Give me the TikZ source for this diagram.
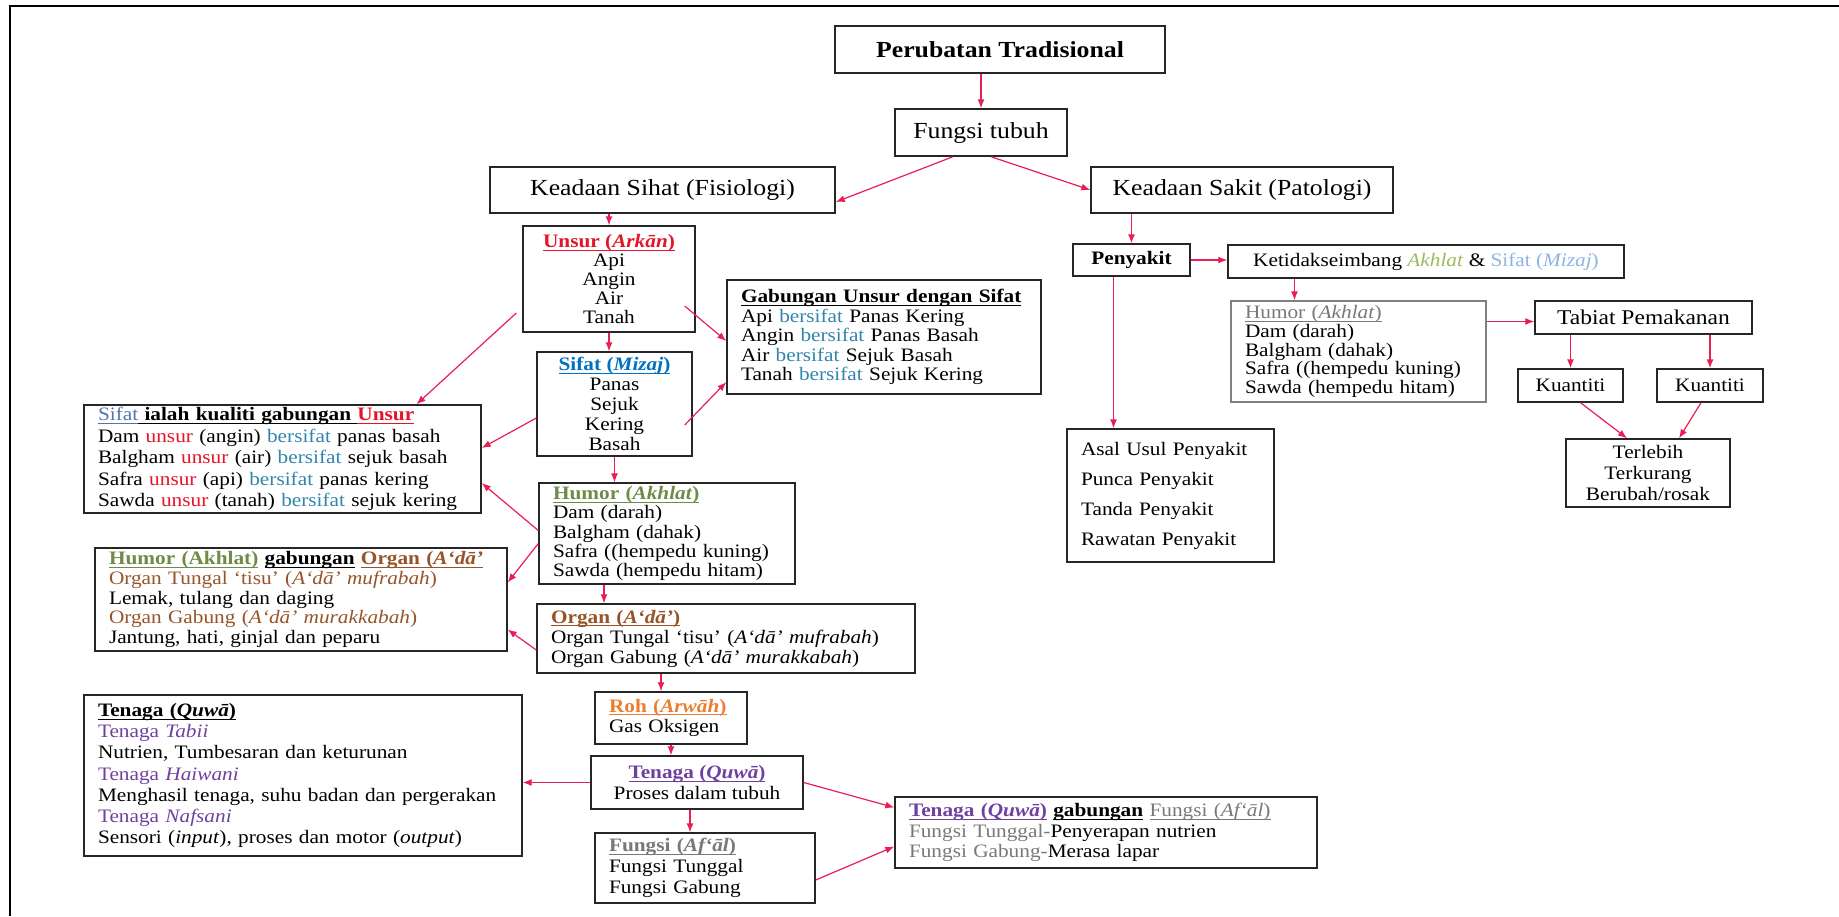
\documentclass[tikz,border=0pt]{standalone}
\usepackage{fontspec}
\setmainfont{Liberation Serif}[FakeStretch=1.12]
\usetikzlibrary{arrows.meta}

\definecolor{arrred}{RGB}{232,30,84}
\definecolor{unsred}{RGB}{230,20,40}
\definecolor{sifblue}{RGB}{0,112,192}
\definecolor{bsfteal}{RGB}{49,133,170}
\definecolor{sifgray}{RGB}{84,116,170}
\definecolor{humgreen}{RGB}{110,140,70}
\definecolor{orgbrown}{RGB}{150,84,40}
\definecolor{rohorange}{RGB}{237,125,49}
\definecolor{tenpurple}{RGB}{112,64,160}
\definecolor{fgray}{RGB}{120,120,120}
\definecolor{akhgreen}{RGB}{155,187,89}
\definecolor{siflblue}{RGB}{141,180,226}

% underline at a fixed depth
\newcommand{\undl}[1]{\setbox0\hbox{#1}\rlap{\rule[-1.6pt]{\wd0}{0.45pt}}\box0\relax}

\tikzset{
  box/.style={draw=black!85, line width=0.7pt, inner xsep=7pt, inner ysep=1pt,
    align=left, font=\fontsize{9.5}{10.4}\selectfont},
  cbox/.style={box, align=center},
  arr/.style={draw=arrred, line width=0.6pt, -{Latex[length=4.5pt,width=3.5pt]}}
}

\begin{document}
\begin{tikzpicture}[x=0.5pt,y=-0.5pt]
    \useasboundingbox (0,0) rectangle (1839,916);
    \draw[line width=1.2pt] (10,916) -- (10,6) -- (1839,6);

    % top of the chart
    \node[cbox, minimum width=165pt, minimum height=23.5pt,
      font=\fontsize{11.5}{13}\selectfont\bfseries] (per) at (1000,49.5) {Perubatan Tradisional};
    \node[cbox, minimum width=86pt, minimum height=23.5pt,
      font=\fontsize{11.5}{13}\selectfont] (fungsi) at (981,132.5) {Fungsi tubuh};
    \node[cbox, minimum width=172.5pt, minimum height=23pt,
      font=\fontsize{11.5}{13}\selectfont] (sihat) at (662.5,190) {Keadaan Sihat (Fisiologi)};
    \node[cbox, minimum width=151pt, minimum height=23pt,
      font=\fontsize{11.5}{13}\selectfont] (sakit) at (1242,190) {Keadaan Sakit (Patologi)};

    % keadaan sihat
    \node[cbox, minimum width=86pt, minimum height=53pt,
      font=\fontsize{9.5}{9.4}\selectfont] (unsur) at (609,279)
      {\textcolor{unsred}{\undl{\textbf{Unsur (\textit{Arkān})}}}\\Api\\Angin\\Air\\Tanah};
    \node[cbox, minimum width=77.5pt, minimum height=52pt,
      font=\fontsize{9.5}{10}\selectfont] (sifat) at (614.5,404)
      {\textcolor{sifblue}{\undl{\textbf{Sifat (\textit{Mizaj})}}}\\Panas\\Sejuk\\Kering\\Basah};
    \node[box, text width=143pt, minimum height=57pt,
      font=\fontsize{9.5}{9.8}\selectfont] (gab) at (884,337)
      {\undl{\textbf{Gabungan Unsur dengan Sifat}}\\
       Api \textcolor{bsfteal}{bersifat} Panas Kering\\
       Angin \textcolor{bsfteal}{bersifat} Panas Basah\\
       Air \textcolor{bsfteal}{bersifat} Sejuk Basah\\
       Tanah \textcolor{bsfteal}{bersifat} Sejuk Kering};
    \node[box, text width=184.5pt, minimum height=54pt,
      font=\fontsize{9.5}{10.7}\selectfont] (ialah) at (282.5,459)
      {\textcolor{sifgray}{\undl{Sifat}}\undl{\textbf{ ialah kualiti gabungan }}\textcolor{unsred}{\undl{\textbf{Unsur}}}\\
       Dam \textcolor{unsred}{unsur} (angin) \textcolor{bsfteal}{bersifat} panas basah\\
       Balgham \textcolor{unsred}{unsur} (air) \textcolor{bsfteal}{bersifat} sejuk basah\\
       Safra \textcolor{unsred}{unsur} (api) \textcolor{bsfteal}{bersifat} panas kering\\
       Sawda \textcolor{unsred}{unsur} (tanah) \textcolor{bsfteal}{bersifat} sejuk kering};
    \node[box, text width=114pt, minimum height=50.5pt,
      font=\fontsize{9.5}{9.6}\selectfont] (humor) at (667,533.5)
      {\textcolor{humgreen}{\undl{\textbf{Humor (\textit{Akhlat})}}}\\
       Dam (darah)\\Balgham (dahak)\\Safra ((hempedu kuning)\\Sawda (hempedu hitam)};
    \node[box, text width=192pt, minimum height=51.5pt,
      font=\fontsize{9.5}{9.8}\selectfont] (hgab) at (301,599.5)
      {\textcolor{humgreen}{\undl{\textbf{Humor (Akhlat)}}} \undl{\textbf{gabungan}} \textcolor{orgbrown}{\undl{\textbf{Organ (\textit{A‘dā’}}}}\\
       \textcolor{orgbrown}{Organ Tungal ‘tisu’ (\textit{A‘dā’ mufrabah})}\\
       Lemak, tulang dan daging\\
       \textcolor{orgbrown}{Organ Gabung (\textit{A‘dā’ murakkabah})}\\
       Jantung, hati, ginjal dan peparu};
    \node[box, text width=175pt, minimum height=34.5pt,
      font=\fontsize{9.5}{10}\selectfont] (organ) at (726,638.5)
      {\textcolor{orgbrown}{\undl{\textbf{Organ (\textit{A‘dā’})}}}\\
       Organ Tungal ‘tisu’ (\textit{A‘dā’ mufrabah})\\
       Organ Gabung (\textit{A‘dā’ murakkabah})};
    \node[box, text width=62pt, minimum height=26pt] (roh) at (671,718)
      {\textcolor{rohorange}{\undl{\textbf{Roh (\textit{Arwāh})}}}\\Gas Oksigen};
    \node[box, text width=205pt, minimum height=80.5pt,
      font=\fontsize{9.5}{10.6}\selectfont] (tenL) at (303,775.5)
      {\undl{\textbf{Tenaga (\textit{Quwā})}}\\
       \textcolor{tenpurple}{Tenaga \textit{Tabii}}\\
       Nutrien, Tumbesaran dan keturunan\\
       \textcolor{tenpurple}{Tenaga \textit{Haiwani}}\\
       Menghasil tenaga, suhu badan dan pergerakan\\
       \textcolor{tenpurple}{Tenaga \textit{Nafsani}}\\
       Sensori (\textit{input}), proses dan motor (\textit{output})};
    \node[cbox, minimum width=106pt, minimum height=26.5pt] (tenM) at (697,782.5)
      {\textcolor{tenpurple}{\undl{\textbf{Tenaga (\textit{Quwā})}}}\\Proses dalam tubuh};
    \node[box, text width=96pt, minimum height=35pt] (fungsiaf) at (705,868)
      {\textcolor{fgray}{\undl{\textbf{Fungsi (\textit{Af‘āl})}}}\\Fungsi Tunggal\\Fungsi Gabung};
    \node[box, text width=197pt, minimum height=35.5pt] (tgab) at (1106,832.5)
      {\textcolor{tenpurple}{\undl{\textbf{Tenaga (\textit{Quwā})}}} \undl{\textbf{gabungan}} \textcolor{fgray}{\undl{Fungsi (\textit{Af‘āl})}}\\
       \textcolor{fgray}{Fungsi Tunggal-}Penyerapan nutrien\\
       \textcolor{fgray}{Fungsi Gabung-}Merasa lapar};

    % keadaan sakit
    \node[cbox, minimum width=58.5pt, minimum height=16pt, font=\fontsize{9.5}{10}\selectfont\bfseries]
      (penyakit) at (1131.5,260) {Penyakit};
    \node[cbox, minimum width=198pt, minimum height=16.5pt] (ketid) at (1426,261.5)
      {Ketidakseimbang \textcolor{akhgreen}{\textit{Akhlat}} \& \textcolor{siflblue}{Sifat (\textit{Mizaj})}};
    \node[box, draw=black!50, text width=113.5pt, minimum height=50.5pt,
      font=\fontsize{9.5}{9.4}\selectfont] (humorR) at (1358.5,351.5)
      {\textcolor{fgray}{\undl{Humor (\textit{Akhlat})}}\\
       Dam (darah)\\Balgham (dahak)\\Safra ((hempedu kuning)\\Sawda (hempedu hitam)};
    \node[cbox, minimum width=108.5pt, minimum height=16.5pt,
      font=\fontsize{10.5}{11}\selectfont] (tabiat) at (1643.5,317.5) {Tabiat Pemakanan};
    \node[cbox, minimum width=52.5pt, minimum height=16.5pt] (kuan1) at (1570.5,385.5) {Kuantiti};
    \node[cbox, minimum width=53pt, minimum height=16.5pt] (kuan2) at (1710,385.5) {Kuantiti};
    \node[cbox, minimum width=82pt, minimum height=34pt] (terlebih) at (1648,473)
      {Terlebih\\Terkurang\\Berubah/rosak};
    \node[box, text width=89.5pt, minimum height=66.5pt,
      font=\fontsize{9.5}{15}\selectfont] (asal) at (1170.5,495.5)
      {Asal Usul Penyakit\\Punca Penyakit\\Tanda Penyakit\\Rawatan Penyakit};

    % arrows
    \draw[arr] (per.south -| fungsi.north) -- (fungsi.north);
    \draw[arr] ([xshift=-14pt]fungsi.south) -- ([yshift=-6pt]sihat.east);
    \draw[arr] ([xshift=5pt]fungsi.south) -- (sakit.west);
    \draw[arr] (sihat.south -| unsur.north) -- (unsur.north);
    \draw[arr] (unsur.south) -- (unsur.south |- sifat.north);
    \draw[arr] ([shift={(-3pt,-17pt)}]unsur.west) -- ([xshift=67pt]ialah.north);
    \draw[arr] ([shift={(-5.5pt,-13.5pt)}]unsur.east) -- ([yshift=-2pt]gab.west);
    \draw[arr] ([shift={(-4pt,-10.5pt)}]sifat.east) -- ([yshift=-22.5pt]gab.west);
    \draw[arr] ([yshift=-7pt]sifat.west) -- ([yshift=5.5pt]ialah.east);
    \draw[arr] (sifat.south) -- (sifat.south |- humor.north);
    \draw[arr] ([yshift=1.5pt]humor.west) -- ([yshift=-12pt]ialah.east);
    \draw[arr] ([yshift=-5pt]humor.west) -- ([yshift=8.5pt]hgab.east);
    \draw[arr] ([yshift=-5.75pt]organ.west) -- ([yshift=-15pt]hgab.east);
    \draw[arr] ([xshift=-31.5pt]humor.south) -- ([xshift=-31.5pt]humor.south |- organ.north);
    \draw[arr] ([xshift=-5pt]roh.north |- organ.south) -- ([xshift=-5pt]roh.north);
    \draw[arr] (roh.south) -- (roh.south |- tenM.north);
    \draw[arr] (tenM.west) -- (tenM.west -| tenL.east);
    \draw[arr] ([xshift=-3.5pt]tenM.south) -- ([xshift=-3.5pt]tenM.south |- fungsiaf.north);
    \draw[arr] (tenM.east) -- ([yshift=12.5pt]tgab.west);
    \draw[arr] ([yshift=-6pt]fungsiaf.east) -- ([yshift=-7pt]tgab.west);
    \draw[arr] (penyakit.north |- sakit.south) -- (penyakit.north);
    \draw[arr] (penyakit.east) -- (penyakit.east -| ketid.west);
    \draw[arr] ([xshift=-9pt]penyakit.south) -- ([xshift=-9pt]penyakit.south |- asal.north);
    \draw[arr] ([xshift=-32pt]humorR.north |- ketid.south) -- ([xshift=-32pt]humorR.north);
    \draw[arr] ([yshift=15pt]humorR.east) -- ([yshift=15pt]humorR.east -| tabiat.west);
    \draw[arr] (kuan1.north |- tabiat.south) -- (kuan1.north);
    \draw[arr] (kuan2.north |- tabiat.south) -- (kuan2.north);
    \draw[arr] ([xshift=5pt]kuan1.south) -- ([xshift=-10.5pt]terlebih.north);
    \draw[arr] ([xshift=-4.5pt]kuan2.south) -- ([xshift=15.5pt]terlebih.north);
\end{tikzpicture}
\end{document}
